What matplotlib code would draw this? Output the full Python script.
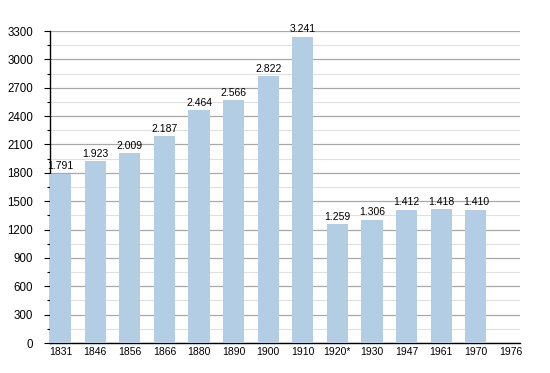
import matplotlib
matplotlib.use("Agg")
import matplotlib.pyplot as plt
import numpy as np

years = ["1831", "1846", "1856", "1866", "1880", "1890", "1900",
         "1910", "1920*", "1930", "1947", "1961", "1970", "1976"]
population = [1791, 1923, 2009, 2187, 2464, 2566, 2822,
              3241, 1259, 1306, 1412, 1418, 1410, None]

plt.rcParams["font.family"] = ["Liberation Sans", "DejaVu Sans"]

fig = plt.figure(figsize=(5.5, 3.73), dpi=100)
ax = fig.add_axes([50 / 550, 30 / 373, 470 / 550, 312 / 373])

width = 0.61
x = np.arange(len(years))
for i, v in enumerate(population):
    if v is None:
        continue
    ax.bar(i, v, width=width, align="edge", color="#b3cde4", zorder=3)
    label = "{:,}".format(v).replace(",", ".")
    ax.text(i + width / 2, v + 25, label, ha="center", va="bottom",
            fontsize=7.5, zorder=4)

ax.set_xlim(0, 13.58)
ax.set_ylim(0, 3300)

ax.set_yticks(np.arange(0, 3301, 300))
ax.set_yticks(np.arange(150, 3300, 300), minor=True)
ax.yaxis.grid(True, which="major", color="#a8a8a8", linewidth=0.9, zorder=0)
ax.yaxis.grid(True, which="minor", color="#e0e0e0", linewidth=0.8, zorder=0)
ax.tick_params(axis="y", which="major", length=4, width=0.8, labelsize=8.3,
               pad=8)
ax.tick_params(axis="y", which="minor", length=2, width=0.8)

ax.set_xticks(x + width / 2)
ax.set_xticklabels(years)
ax.tick_params(axis="x", length=0, labelsize=7.5, pad=3)

for side in ["top", "right"]:
    ax.spines[side].set_visible(False)
ax.spines["left"].set_linewidth(1.0)
ax.spines["bottom"].set_linewidth(1.0)

fig.savefig("out.png", dpi=100)
